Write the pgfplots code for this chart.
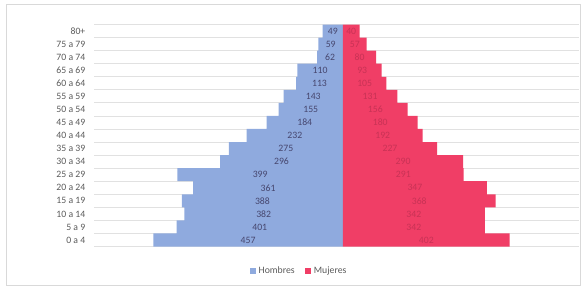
\documentclass[border=0pt]{standalone}
\usepackage{pgfplots}
\pgfplotsset{compat=1.18}
\usepackage{pgfplotstable}
\usepackage{fontspec}
\setmainfont{Carlito}
\definecolor{male}{RGB}{143,170,222}
\definecolor{female}{RGB}{240,62,102}
\definecolor{mtext}{RGB}{70,70,110}
\definecolor{ftext}{RGB}{200,50,85}
\definecolor{gridc}{RGB}{225,225,225}
\definecolor{labc}{RGB}{90,90,90}
\pgfplotstableread{
y m f
0 457 402
1 401 342
2 382 342
3 388 368
4 361 347
5 399 291
6 296 290
7 275 227
8 232 192
9 184 180
10 155 156
11 143 131
12 113 105
13 110 93
14 62 80
15 59 57
16 49 40
}\pop
\begin{document}
\begin{tikzpicture}
\useasboundingbox (0,0) rectangle (436.5pt,216pt);
\draw[gray!30] (5pt,2pt) rectangle (435pt,213pt);
\begin{axis}[
  at={(70.5pt,31.1pt)}, anchor=south west,
  scale only axis, width=363.75pt, height=166.5pt,
  xmin=-600, xmax=569, ymin=-0.5, ymax=16.5,
  /pgf/number format/assume math mode=true,
  axis line style={draw=none},
  xtick=\empty,
  ytick={0,...,16},
  yticklabels={0 a 4,5 a 9,10 a 14,15 a 19,20 a 24,25 a 29,30 a 34,35 a 39,40 a 44,45 a 49,50 a 54,55 a 59,60 a 64,65 a 69,70 a 74,75 a 79,80+},
  yticklabel style={font=\fontsize{7.3}{8}\selectfont, text=labc, xshift=-3pt},
  major tick length=0pt,
  extra y ticks={-0.5,0.5,1.5,2.5,3.5,4.5,5.5,6.5,7.5,8.5,9.5,10.5,11.5,12.5,13.5,14.5,15.5,16.5},
  extra y tick labels={},
  extra y tick style={ymajorgrids=true, major grid style={gridc, line width=0.6pt}},
  legend style={at={(0.424,-0.11)}, anchor=center, draw=none, fill=none,
    font=\fontsize{7.3}{8}\selectfont, text=labc, legend columns=2,
    /tikz/every even column/.append style={column sep=6pt}},
  legend cell align=left,
  clip=false,
]
\addplot[xbar, bar width=9.8pt, bar shift=0pt, draw=none, fill=male,
  legend image code/.code={\fill[male] (0pt,-2.2pt) rectangle (4.4pt,2.2pt);}]
  table[x expr=-\thisrow{m}, y=y] {\pop};
\addlegendentry{Hombres}
\addplot[xbar, bar width=9.8pt, bar shift=0pt, draw=none, fill=female,
  legend image code/.code={\fill[female] (0pt,-2.2pt) rectangle (4.4pt,2.2pt);}]
  table[x=f, y=y] {\pop};
\addlegendentry{Mujeres}
\addplot[only marks, mark=none, forget plot, nodes near coords, point meta=explicit,
  every node near coord/.style={anchor=center, font=\fontsize{7.3}{8}\selectfont, text=mtext}]
  table[x expr=-\thisrow{m}/2, y=y, meta=m] {\pop};
\addplot[only marks, mark=none, forget plot, nodes near coords, point meta=explicit,
  every node near coord/.style={anchor=center, font=\fontsize{7.3}{8}\selectfont, text=ftext}]
  table[x expr=\thisrow{f}/2, y=y, meta=f] {\pop};
\end{axis}
\end{tikzpicture}
\end{document}
